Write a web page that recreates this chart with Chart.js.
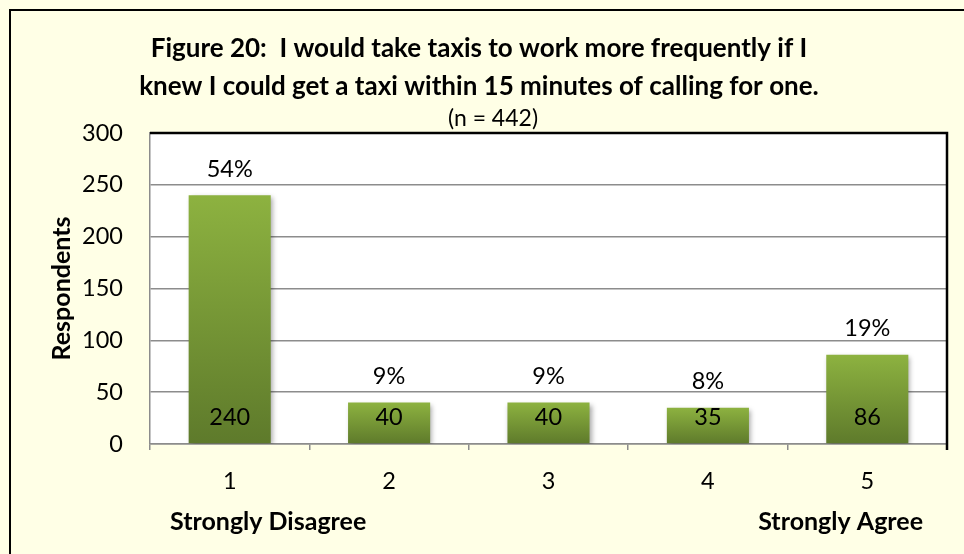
<!DOCTYPE html>
<html><head><meta charset="utf-8">
<script src="https://cdn.jsdelivr.net/npm/chart.js@4"></script>
<style>html,body{margin:0;padding:0;background:#FFFFE6;overflow:hidden}</style>
</head><body>
<canvas id="c" width="964" height="554"></canvas>
<script>
const categories = ['1', '2', '3', '4', '5'];
const respondents = [240, 40, 40, 35, 86];
const percentLabels = ['54%', '9%', '9%', '8%', '19%'];
const yTicks = [0, 50, 100, 150, 200, 250, 300];
const titleLines = ['Figure 20:  I would take taxis to work more frequently if I', 'knew I could get a taxi within 15 minutes of calling for one.'];
const subtitleText = '(n = 442)';
const scaleEnds = ['Strongly Disagree', 'Strongly Agree'];
const yAxisTitle = 'Respondents';

const FONT = 'Lato, Carlito, Calibri, sans-serif';
Chart.defaults.font.family = FONT;
Chart.defaults.color = '#000';

function barGradient(ctx) {
  const chart = ctx.chart;
  if (!chart.chartArea || ctx.parsed === undefined) return '#76963a';
  const y = chart.scales.y;
  const top = y.getPixelForValue(ctx.parsed.y);
  const bottom = y.getPixelForValue(0);
  const g = chart.ctx.createLinearGradient(0, top, 0, bottom);
  g.addColorStop(0, '#8DB240');
  g.addColorStop(1, '#5E7A2B');
  return g;
}

const background = {
  id: 'background',
  beforeDraw(chart) {
    const c = chart.ctx, a = chart.chartArea;
    c.save();
    c.fillStyle = '#FFFFE6';
    c.fillRect(0, 0, chart.width, chart.height);
    c.strokeStyle = '#000';
    c.lineWidth = 2;
    c.strokeRect(10, 10, chart.width + 20, chart.height + 20);
    c.fillStyle = '#fff';
    c.fillRect(a.left, a.top, a.right - a.left, a.bottom - a.top);
    c.restore();
  },
  afterDraw(chart) {
    const c = chart.ctx, a = chart.chartArea;
    c.save();
    c.strokeStyle = '#000';
    c.lineWidth = 2.5;
    c.beginPath();
    c.moveTo(a.left, a.top);
    c.lineTo(a.right, a.top);
    c.lineTo(a.right, a.bottom + 6);
    c.stroke();
    // scale end captions
    c.font = 'bold 25px ' + FONT;
    c.fillStyle = '#000';
    c.textBaseline = 'middle';
    c.textAlign = 'left';
    c.fillText(scaleEnds[0], a.left + 20, 522);
    c.textAlign = 'right';
    c.fillText(scaleEnds[1], a.right - 24, 522);
    c.restore();
  }
};

const shadow = {
  id: 'barShadow',
  beforeDatasetDraw(chart) {
    const c = chart.ctx;
    c.save();
    c.shadowColor = 'rgba(0,0,0,0.35)';
    c.shadowBlur = 5;
    c.shadowOffsetX = 2;
    c.shadowOffsetY = 2;
  },
  afterDatasetDraw(chart) {
    chart.ctx.restore();
  }
};

const barLabels = {
  id: 'barLabels',
  afterDatasetsDraw(chart) {
    const c = chart.ctx;
    const meta = chart.getDatasetMeta(0);
    c.save();
    c.font = '23.5px ' + FONT;
    c.fillStyle = '#000';
    c.textAlign = 'center';
    c.textBaseline = 'middle';
    meta.data.forEach((bar, i) => {
      c.fillText(percentLabels[i], bar.x, bar.y - 26);
      c.fillText(String(respondents[i]), bar.x, bar.base - 26);
    });
    c.restore();
  }
};

const shiftSubtitle = {
  id: 'shiftSubtitle',
  afterLayout(chart) {
    chart.boxes.forEach(b => {
      if (b.options && b.options.text === subtitleText && b.left !== undefined) {
        b.left += 14; b.right += 14;
      }
    });
  }
};

new Chart(document.getElementById('c'), {
  type: 'bar',
  data: {
    labels: categories,
    datasets: [{
      data: respondents,
      backgroundColor: barGradient,
      borderWidth: 0,
      barPercentage: 0.515,
      categoryPercentage: 1
    }]
  },
  options: {
    responsive: false,
    animation: false,
    layout: { padding: { left: 11, right: 17, top: 0, bottom: 0 } },
    plugins: {
      legend: { display: false },
      tooltip: { enabled: false },
      title: {
        display: true, text: titleLines, color: '#000',
        font: { size: 26, weight: 'bold', lineHeight: 38 / 26 },
        padding: { top: 30, bottom: 1 }
      },
      subtitle: {
        display: true, text: subtitleText, color: '#000',
        font: { size: 23, lineHeight: 1 },
        padding: { top: 0, bottom: 3 }
      }
    },
    scales: {
      x: {
        grid: { drawOnChartArea: false, drawTicks: true, tickLength: 6, color: '#8c8c8c', lineWidth: 1.5 },
        border: { color: '#8c8c8c', width: 1.5 },
        ticks: { font: { size: 23.5 }, padding: 17.5, color: '#000' },
        afterFit(s) { s.height = 110; }
      },
      y: {
        min: 0, max: 300,
        afterBuildTicks(s) { s.ticks = yTicks.map(v => ({ value: v })); },
        ticks: { font: { size: 23.5 }, padding: 27, color: '#000' },
        grid: { drawTicks: false, color: '#8c8c8c', lineWidth: 1.5 },
        border: { color: '#8c8c8c', width: 1.5 },
        title: {
          display: true, text: yAxisTitle, color: '#000',
          font: { size: 25, weight: 'bold', lineHeight: 1.2 },
          padding: { top: 36, bottom: 0 }
        },
        afterFit(s) { s.width = 139; }
      }
    }
  },
  plugins: [background, shiftSubtitle, shadow, barLabels]
});
</script>
</body></html>
